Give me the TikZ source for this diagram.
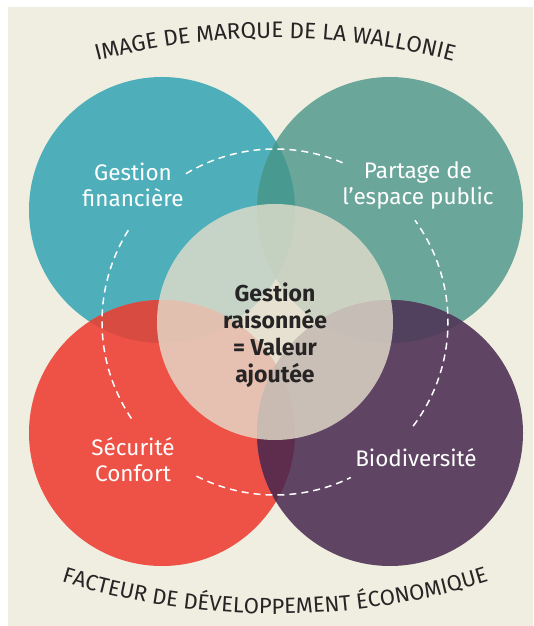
\documentclass[tikz,border=0pt]{standalone}
\usepackage{fontspec}
\setmainfont{Fira Sans}
\usetikzlibrary{decorations.text}
\definecolor{bg}{RGB}{240,238,224}
\definecolor{cteal}{RGB}{78,175,187}
\definecolor{cgreen}{RGB}{107,166,155}
\definecolor{cred}{RGB}{238,81,69}
\definecolor{cpurple}{RGB}{95,69,99}
\definecolor{ctg}{RGB}{72,154,144}
\definecolor{ctr}{RGB}{215,75,64}
\definecolor{cgp}{RGB}{81,64,94}
\definecolor{crp}{RGB}{94,45,77}
\definecolor{ccenter}{RGB}{228,222,204}
\definecolor{ctext}{RGB}{38,36,36}
\tikzset{
  lab/.style={text=white, align=center, font=\fontsize{22.5}{26}\selectfont, inner sep=0pt},
  mid/.style={text=ctext, align=center, font=\fontsize{23}{27}\selectfont\bfseries, inner sep=0pt},
  dashring/.style={draw=white, line width=1.5pt, dash pattern=on 7pt off 5pt},
}
\begin{document}
\begin{tikzpicture}[x=1pt,y=1pt]
\useasboundingbox (0,0) rectangle (533,626);
\fill[white] (0,0) rectangle (533,626);
\fill[bg] (8,0) rectangle (533,619);
\coordinate (cTL) at (162,416);
\coordinate (cTR) at (390,416);
\coordinate (cBL) at (162,193);
\coordinate (cBR) at (390,193);
\coordinate (cC) at (275,304);
% circles
\fill[cteal] (cTL) circle[radius=133pt];
\fill[cgreen] (cTR) circle[radius=133pt];
\fill[cred] (cBL) circle[radius=133pt];
\fill[cpurple] (cBR) circle[radius=133pt];
% overlaps
\begin{scope}\clip (cTL) circle[radius=133pt]; \fill[ctg] (cTR) circle[radius=133pt];\end{scope}
\begin{scope}\clip (cTL) circle[radius=133pt]; \fill[ctr] (cBL) circle[radius=133pt];\end{scope}
\begin{scope}\clip (cTR) circle[radius=133pt]; \fill[cgp] (cBR) circle[radius=133pt];\end{scope}
\begin{scope}\clip (cBL) circle[radius=133pt]; \fill[crp] (cBR) circle[radius=133pt];\end{scope}
% center circle
\fill[ccenter, fill opacity=0.8] (cC) circle[radius=118pt];
% dashed ring arcs
\draw[dashring] (cC) ++(67:173pt) arc[start angle=67, end angle=121, radius=173pt];
\draw[dashring] (cC) ++(148:173pt) arc[start angle=148, end angle=215, radius=173pt];
\draw[dashring] (cC) ++(-117:173pt) arc[start angle=-117, end angle=-64, radius=173pt];
\draw[dashring] (cC) ++(-37:173pt) arc[start angle=-37, end angle=36, radius=173pt];
% labels
\node[lab] (fin) at (133,441) {Gestion\\financière};
\node[lab] (esp) at (418,441) {Partage de\\l’espace public};
\node[lab] (sec) at (133,166) {Sécurité\\Confort};
\node[lab] (bio) at (416,168) {Biodiversité};
\node[mid] (val) at (275,291) {Gestion\\raisonnée\\= Valeur\\ajoutée};
% curved titles
\path[decorate, decoration={text along path, text align=center, text color=ctext,
  text={|\fontsize{22.5}{22.5}\selectfont|IMAGE DE MARQUE DE LA WALLONIE}}]
  (275,-114) ++(118:702pt) arc[start angle=118, end angle=62, radius=702pt];
\path[decorate, decoration={text along path, text align=center, text color=ctext,
  text={|\fontsize{22}{22}\selectfont|FACTEUR DE DÉVELOPPEMENT ÉCONOMIQUE}}]
  (275,729) ++(242:717pt) arc[start angle=242, end angle=298, radius=717pt];
\end{tikzpicture}
\end{document}
